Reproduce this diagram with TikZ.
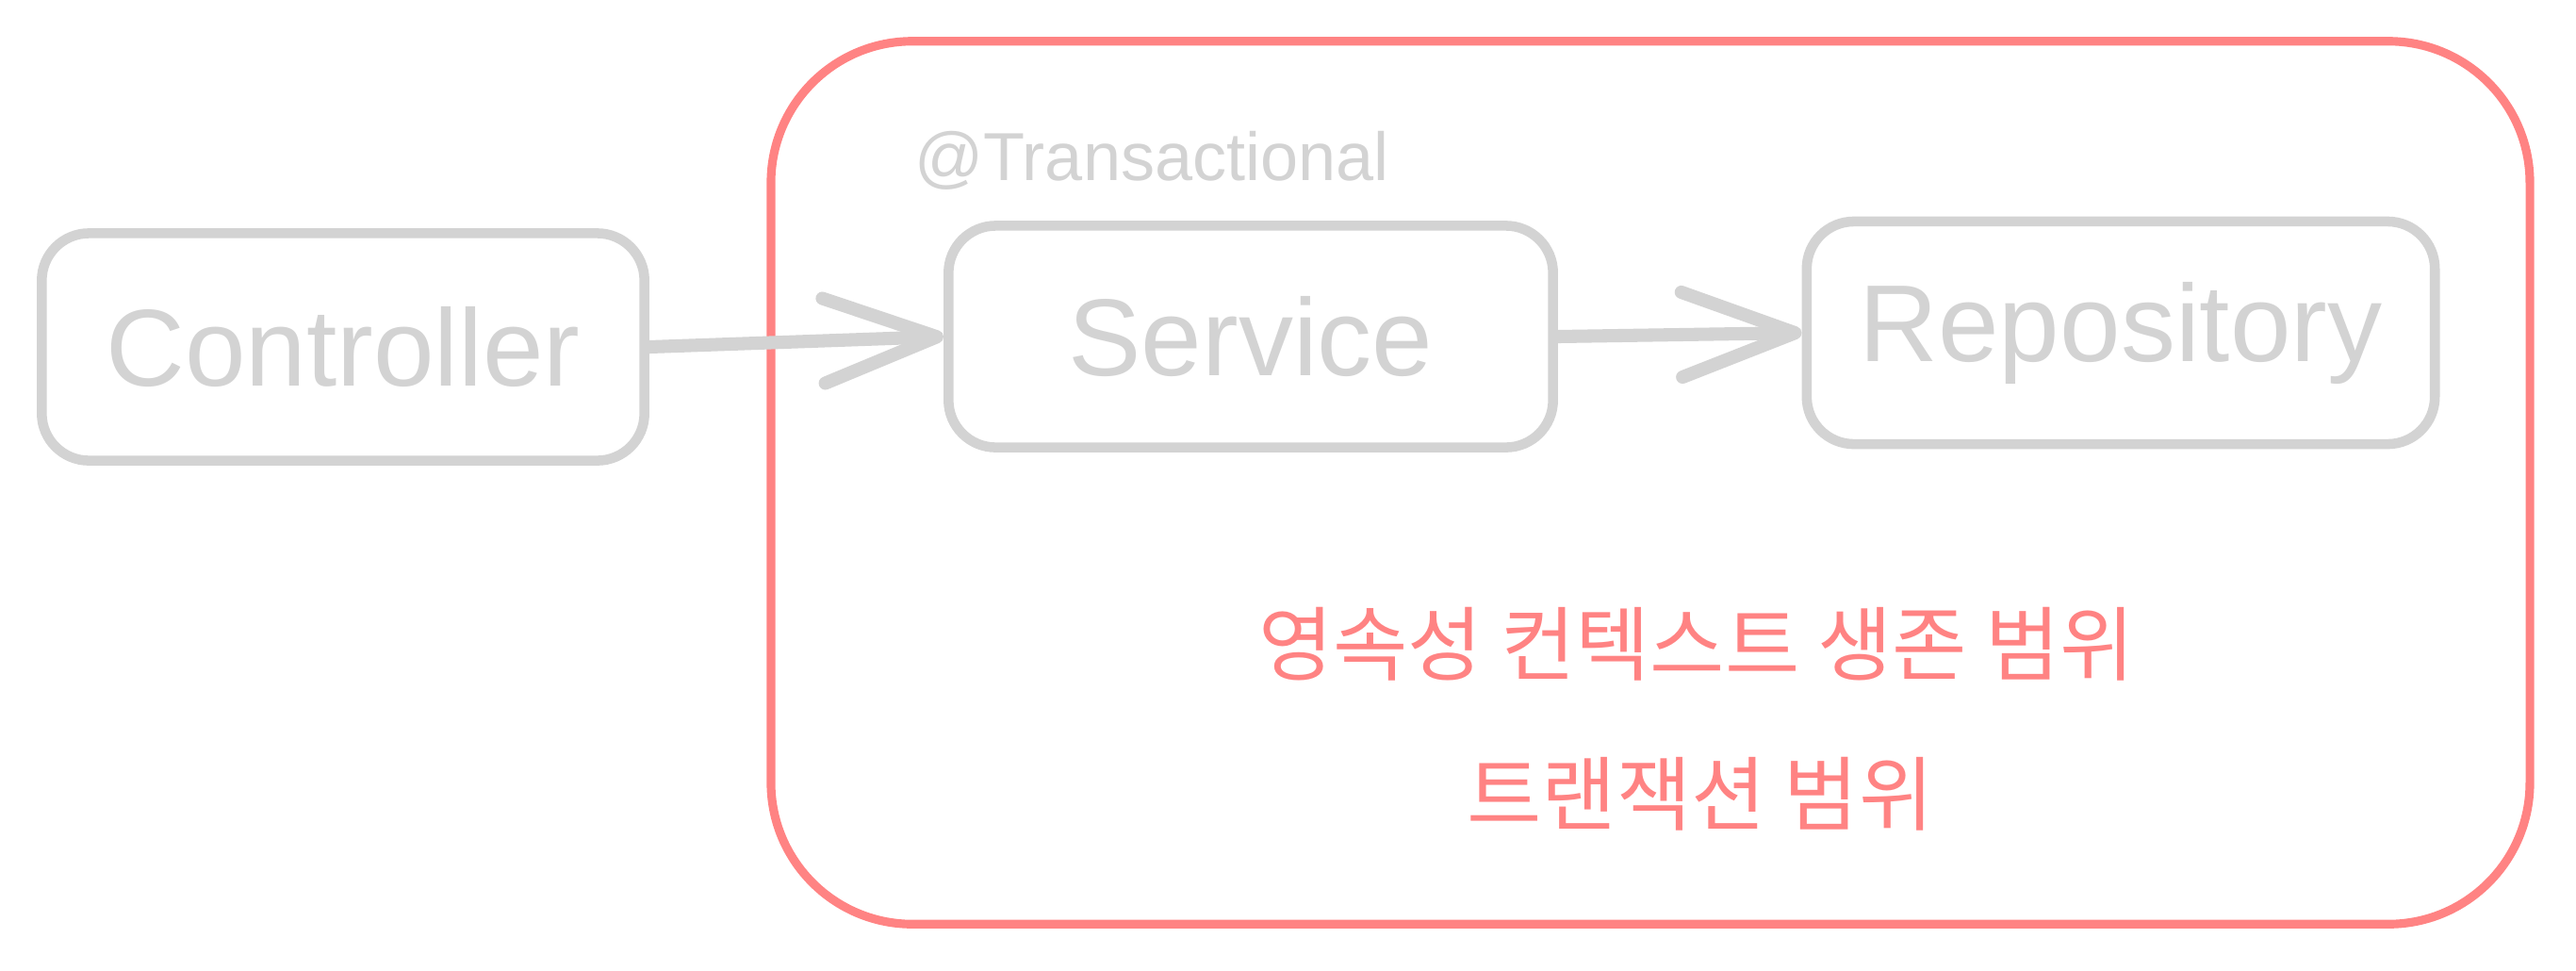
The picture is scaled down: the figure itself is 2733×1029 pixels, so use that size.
\documentclass[tikz,border=0pt]{standalone}
\usepackage{fontspec}
\setmainfont{Liberation Sans}
\newfontfamily\krfont{Noto Sans CJK KR}
\usetikzlibrary{arrows.meta, positioning}
\definecolor{sketchgray}{HTML}{D3D3D3}
\definecolor{sketchred}{HTML}{FF8383}

\begin{document}
\begin{tikzpicture}[
  x=0.01cm, y=-0.01cm,
  every node/.style={font=\fontsize{33}{40}\selectfont, text=sketchgray},
  layerbox/.style={draw=sketchgray, line width=3pt, rounded corners=5mm, rectangle, inner sep=0pt},
  callarrow/.style={draw=sketchgray, line width=4pt, line cap=round,
    -{Straight Barb[length=12mm, width=9mm, line cap=round, line join=round]}},
  scopelbl/.style={font=\krfont\fontsize{24.5}{30}\selectfont, text=sketchred},
]
\useasboundingbox (0,0) rectangle (2733,1029);

% Transaction scope
\node[draw=sketchred, line width=2.6pt, rounded corners=15mm, rectangle,
      minimum width=18.65cm, minimum height=9.36cm] (txscope) at (1751,512) {};
\node[font=\fontsize{20.5}{25}\selectfont] (txanno) at (1222,170) {@Transactional};

% Layers
\node[layerbox, minimum width=6.39cm, minimum height=2.41cm] (ctrl) at (364,368) {Controller};
\node[layerbox, minimum width=6.41cm, minimum height=2.35cm] (svc)  at (1327,357) {Service};
\node[layerbox, minimum width=6.66cm, minimum height=2.36cm] (repo) at (2250,353) {Repository};

% Calls
\draw[callarrow] (ctrl.east) -- (svc.west);
\draw[callarrow] (svc.east) -- (repo.west);

% Scope labels
\node[scopelbl] (pcscope) at (1800,683) {영속성 컨텍스트 생존 범위};
\node[scopelbl] (txlbl)   at (1804,842) {트랜잭션 범위};
\end{tikzpicture}
\end{document}
